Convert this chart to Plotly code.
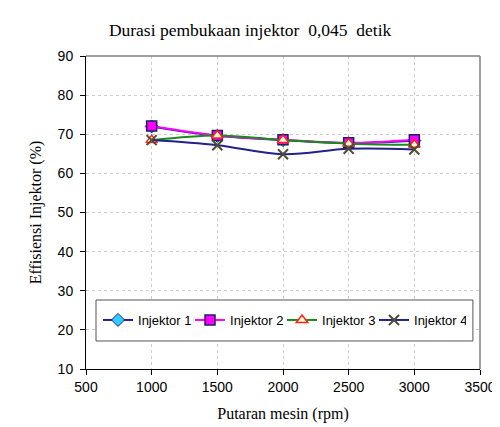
import plotly.graph_objects as go

rpm = [1000, 1500, 2000, 2500, 3000]
inj1 = [72.0, 69.6, 68.5, 67.7, 68.4]
inj2 = [72.1, 69.7, 68.6, 67.8, 68.6]
inj3 = [68.5, 69.7, 68.5, 67.6, 67.3]
inj4 = [68.5, 67.2, 64.9, 66.3, 66.1]
names = ["Injektor 1", "Injektor 2", "Injektor 3", "Injektor 4"]

fig = go.Figure()
fig.add_trace(go.Scatter(x=rpm, y=inj1, name=names[0], mode="lines+markers",
    line=dict(color="#1f1f99", width=2, shape="spline"),
    marker=dict(symbol="diamond", size=10, color="#33ccff", line=dict(color="#1f1f99", width=1))))
fig.add_trace(go.Scatter(x=rpm, y=inj2, name=names[1], mode="lines+markers",
    line=dict(color="#ff00ff", width=2, shape="spline"),
    marker=dict(symbol="square", size=10, color="#ff00ff", line=dict(color="#1f1f66", width=1.5))))
fig.add_trace(go.Scatter(x=rpm, y=inj3, name=names[2], mode="lines+markers",
    line=dict(color="#1a8a1a", width=2, shape="spline"),
    marker=dict(symbol="triangle-up", size=10, color="#ffffcc", line=dict(color="#ff2020", width=1.5))))
fig.add_trace(go.Scatter(x=rpm, y=inj4, name=names[3], mode="lines+markers",
    line=dict(color="#22228a", width=2, shape="spline"),
    marker=dict(symbol="x-thin-open", size=10, color="#4d4d33", line=dict(color="#4d4d33", width=2))))

# page has an 8px body margin; figure sized to fit a 500x427 window
fig.update_layout(
    width=492, height=419,
    margin=dict(l=78, r=20, t=48, b=58, autoexpand=False),
    paper_bgcolor="white", plot_bgcolor="white",
    title=dict(text="Durasi pembukaan injektor  0,045  detik", x=0.492, xanchor="center",
               y=0.9475, yref="container", yanchor="middle",
               font=dict(family="Liberation Serif", size=17.5, color="black")),
    xaxis=dict(range=[500, 3500], tickvals=[500, 1000, 1500, 2000, 2500, 3000, 3500],
               showgrid=True, gridcolor="#cccccc", griddash="dot", gridwidth=1,
               showline=True, linecolor="black", linewidth=1, automargin=False,
               ticks="outside", ticklen=5, tickcolor="black",
               tickfont=dict(family="Liberation Sans", size=14, color="black"),
               title=dict(text="Putaran mesin (rpm)", font=dict(family="Liberation Serif", size=16, color="black"), standoff=14),
               zeroline=False),
    yaxis=dict(range=[10, 90], tickvals=[10, 20, 30, 40, 50, 60, 70, 80, 90],
               showgrid=True, gridcolor="#cccccc", griddash="dot", gridwidth=1,
               showline=True, linecolor="black", linewidth=1, automargin=False,
               ticks="outside", ticklen=5, tickcolor="black", ticklabelstandoff=4,
               tickfont=dict(family="Liberation Sans", size=14, color="black"),
               title=dict(text="Effisiensi Injektor (%)", font=dict(family="Liberation Serif", size=16, color="black"), standoff=12),
               zeroline=False),
    legend=dict(orientation="h", x=0.0305, xanchor="left", y=0.1565, yanchor="middle",
                bgcolor="rgba(0,0,0,0)", borderwidth=0,
                font=dict(family="Liberation Sans", size=13, color="black"),
                entrywidth=47, entrywidthmode="pixels", tracegroupgap=0),
    showlegend=True,
)
# legend frame
fig.add_shape(type="rect", xref="paper", yref="paper", x0=0.0254, y0=0.0895, x1=0.982, y1=0.2204,
              line=dict(color="#555555", width=1), fillcolor="white", layer="above")
fig.add_shape(type="line", xref="paper", yref="paper", x0=0, y0=1, x1=1, y1=1,
              line=dict(color="#808080", width=1.5), layer="above")
fig.add_shape(type="line", xref="paper", yref="paper", x0=1, y0=0, x1=1, y1=1,
              line=dict(color="#808080", width=1.5), layer="above")

fig.write_html("out.html")
